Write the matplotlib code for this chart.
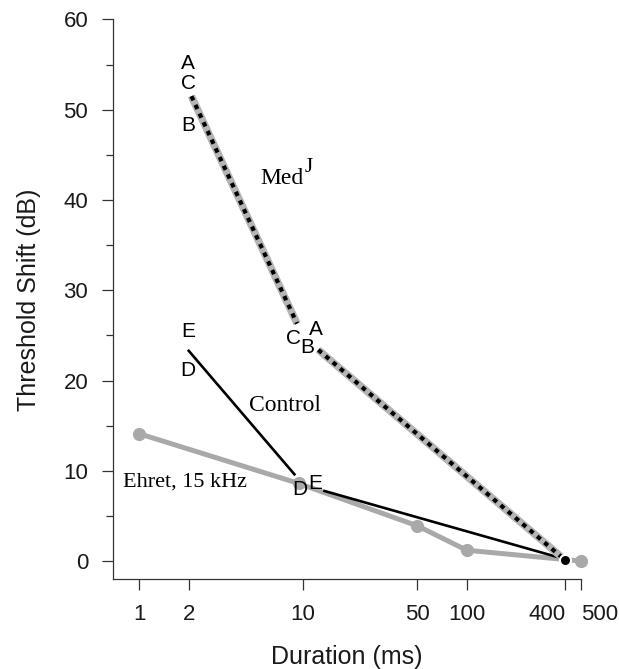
import matplotlib
matplotlib.use("Agg")
import matplotlib.pyplot as plt

# MedJ (gray band with black dashes), drawn as two pieces
medj_seg1_x = [2.08, 9.2]
medj_seg1_y = [51.5, 26.3]
medj_seg2_x = [12.4, 400]
medj_seg2_y = [23.4, 0.1]

# Control (black solid), two pieces
ctrl_seg1_x = [1.98, 8.97]
ctrl_seg1_y = [23.4, 9.5]
ctrl_seg2_x = [13.3, 400]
ctrl_seg2_y = [7.8, 0.2]

# Ehret, 15 kHz (gray with circles)
ehret_x = [1, 9.4, 50, 100, 500]
ehret_y = [14.1, 8.6, 3.9, 1.2, 0.0]

end_x = [400]
end_y = [0.1]

x_ticks = [1, 2, 10, 50, 100, 400, 500]

# letter labels (text, x, y)
letters = [
    ("A", 1.99, 55.1), ("C", 1.99, 52.9), ("B", 2.0, 48.3),
    ("C", 8.75, 24.7), ("B", 10.6, 23.7), ("A", 12.0, 25.6),
    ("E", 1.99, 25.4), ("D", 1.99, 21.1),
    ("D", 9.6, 7.9), ("E", 11.9, 8.6),
]

GRAY = "#a9a9a9"
SANS = "Liberation Sans"
SERIF = "Liberation Serif"

fig = plt.figure(figsize=(6.19, 6.69), dpi=100)
ax = fig.add_axes([0.183, 0.134, 0.9386 - 0.183, 0.9709 - 0.134])

# Ehret
ax.plot(ehret_x, ehret_y, color=GRAY, lw=3.6, marker="o", ms=9.5,
        markeredgewidth=0, solid_capstyle="round", clip_on=False, zorder=2)

# Control
for xs, ys in [(ctrl_seg1_x, ctrl_seg1_y), (ctrl_seg2_x, ctrl_seg2_y)]:
    ax.plot(xs, ys, color="black", lw=1.9, zorder=3, solid_capstyle="butt")

# MedJ
for xs, ys in [(medj_seg1_x, medj_seg1_y), (medj_seg2_x, medj_seg2_y)]:
    ax.plot(xs, ys, color="#b4b4b4", lw=5.4, zorder=4, solid_capstyle="butt")
    ax.plot(xs, ys, color="black", lw=3.0, dashes=(1.1, 1.2), zorder=5,
            dash_capstyle="butt")

ax.plot(end_x, end_y, "o", color="black", ms=8, markeredgecolor="white",
        markeredgewidth=1.5, zorder=6, clip_on=False)

for txt, x, y in letters:
    ax.text(x, y, txt, fontsize=15, family=SANS, ha="center", va="center",
            zorder=7)

med = ax.text(7.4, 42.4, "Med", fontsize=17, family=SERIF,
              ha="center", va="center")
ax.annotate("J", xy=(1.0, 0.55), xycoords=med, xytext=(1, 0),
            textcoords="offset points", fontsize=15, family=SERIF,
            ha="left", va="bottom")
ax.text(7.78, 17.2, "Control", fontsize=17, family=SERIF,
        ha="center", va="center")
ax.text(1.9, 8.8, "Ehret, 15 kHz", fontsize=16, family=SERIF,
        ha="center", va="center")

ax.set_xscale("log")
ax.set_xlim(0.693, 500)
ax.set_ylim(-2.03, 60)
ax.set_xticks(x_ticks)
ax.set_xticklabels([str(v) for v in x_ticks])
ax.minorticks_off()
ax.set_yticks(range(0, 61, 10))
ax.set_yticks(range(5, 60, 10), minor=True)

for side in ["top", "right"]:
    ax.spines[side].set_visible(False)
for side in ["left", "bottom"]:
    ax.spines[side].set_linewidth(0.9)
    ax.spines[side].set_color("#333333")

ax.tick_params(axis="y", which="major", direction="out", length=8, width=0.9,
               pad=10, labelsize=16, color="#333333")
ax.tick_params(axis="y", which="minor", direction="out", length=5, width=0.9,
               color="#333333")
ax.tick_params(axis="x", which="major", direction="out", length=8, width=0.9,
               pad=10, labelsize=16, color="#333333")
for lab in ax.get_xticklabels() + ax.get_yticklabels():
    lab.set_family(SANS)
    lab.set_color("#1a1a1a")

# keep 400 and 500 apart, as in the original
xlabs = ax.get_xticklabels()
xlabs[-2].set_horizontalalignment("right")
xlabs[-1].set_horizontalalignment("left")

ax.set_xlabel("Duration (ms)", fontsize=18, family=SANS, labelpad=14,
              color="#1a1a1a")
ax.set_ylabel("Threshold Shift (dB)", fontsize=18, family=SANS, labelpad=16,
              color="#1a1a1a")

fig.savefig("out.png", dpi=100)
